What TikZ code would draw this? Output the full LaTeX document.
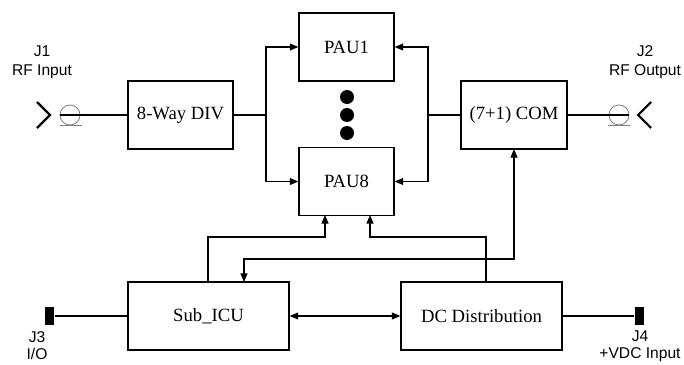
\documentclass[tikz,border=0pt]{standalone}
\usepackage{fontspec}
\setmainfont{Liberation Serif}
\newfontfamily\lsans{Liberation Sans}
\usetikzlibrary{arrows.meta}
\begin{document}
\begin{tikzpicture}[x=0.75pt,y=-0.75pt,line width=0.8pt,
  blk/.style={draw,line width=1pt,inner sep=0pt,minimum height=51pt,
    font=\fontsize{14}{16}\selectfont},
  arr/.style={-{Triangle[length=6.4pt,width=5.2pt]}},
  darr/.style={{Triangle[length=6.4pt,width=5.2pt]}-{Triangle[length=6.4pt,width=5.2pt]}},
  lbl/.style={font=\lsans\fontsize{11.7}{14.25}\selectfont,align=center,inner sep=0pt},
  blbl/.style={font=\lsans\fontsize{11.7}{12.9}\selectfont,align=center,inner sep=0pt},
  coax/.style={circle,draw=gray,line width=0.6pt,minimum size=15pt,inner sep=0pt},
  pin/.style={fill=black,minimum width=6.75pt,minimum height=13.5pt,inner sep=0pt},
  dot/.style={circle,fill=black,minimum size=10.5pt,inner sep=0pt}]
\useasboundingbox (0,0) rectangle (684,364);

% blocks
\node[blk,minimum width=78.75pt] (div) at (180.5,115) {8-Way DIV};
\node[blk,minimum width=79.5pt] (com) at (514,115) {(7+1) COM};
\node[blk,minimum width=71.25pt] (pau1) at (346.5,47) {PAU1};
\node[blk,minimum width=71.25pt] (pau8) at (346.5,181.5) {PAU8};
\node[blk,minimum width=120.75pt] (icu) at (208.5,316) {Sub\_ICU};
\node[blk,minimum width=120.75pt] (dc) at (481.5,316) {DC Distribution};

% dots
\node[dot] (d1) at (347,97) {};
\node[dot] (d2) at (347,115) {};
\node[dot] (d3) at (347,133) {};

% connectors J1, J2
\node[coax] (j1c) at (70,115) {};
\node[coax] (j2c) at (619,115) {};
\draw[gray,line width=0.6pt] (60,125) -- (82,125);
\draw[gray,line width=0.6pt] (608,125) -- (630,125);
\draw[line width=1.6pt] (37,102) -- (50,115) -- (37,128);
\draw[line width=1.6pt] (651,102) -- (638,115) -- (651,128);
\node[lbl] (j1) at (42,62.5) {J1\\RF Input};
\node[lbl] (j2) at (645,62.5) {J2\\RF Output};

% pins J3, J4
\node[pin] (j3p) at (49.5,316) {};
\node[pin] (j4p) at (639,316) {};
\node[blbl] (j3) at (37,346) {J3\\I/O};
\node[blbl] (j4) at (640,346) {J4\\+VDC Input};

% RF path
\coordinate (lb) at (266,115);
\coordinate (rb) at (428,115);
\draw (j1c.west) -- (div.west);
\draw (div.east) -- (lb);
\draw[arr] (lb) |- (pau1.west);
\draw[arr] (lb) |- (pau8.west);
\draw (com.west) -- (rb);
\draw[arr] (rb) |- (pau1.east);
\draw[arr] (rb) |- (pau8.east);
\draw (com.east) -- (j2c.east);

% control / power
\draw[arr] (208,282) -- (208,237) -| (325,215);
\draw[arr] (486,282) -- (486,237) -| (370,215);
\draw[darr] (514,149) -- (514,259) -| (244,282);
\draw[darr] (icu.east) -- (dc.west);
\draw (j3p.east) -- (icu.west);
\draw (dc.east) -- (j4p.west);
\end{tikzpicture}
\end{document}
